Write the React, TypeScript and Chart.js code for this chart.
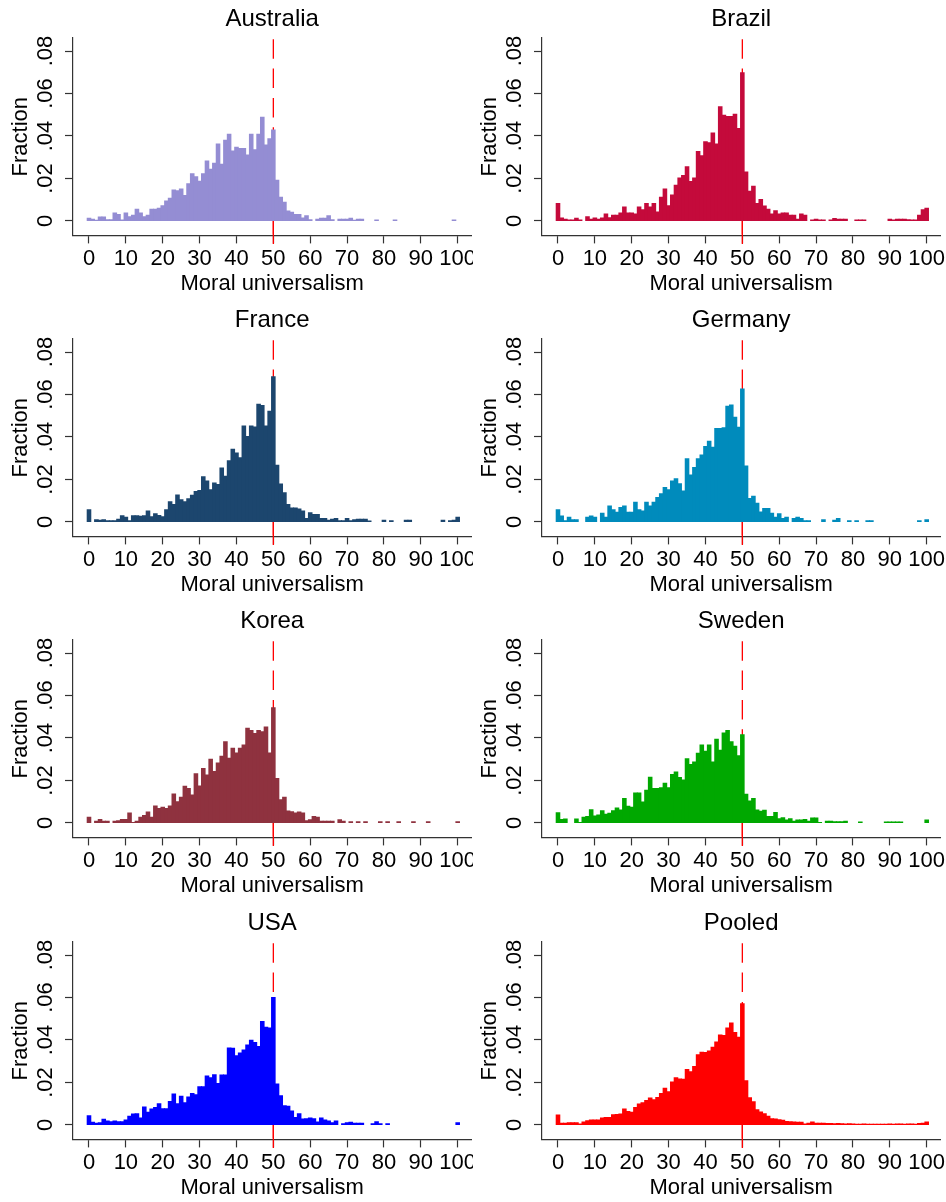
import React, { useEffect, useRef } from "react";
import { Chart, registerables } from "chart.js";

Chart.register(...registerables);

const FONT = '"Liberation Sans", Arial, Helvetica, sans-serif';

// Bins are 1 unit wide, centred on 0, 1, ..., 100
const BIN_START = 0;
const BIN_WIDTH = 1;

const X_TICKS = [0, 10, 20, 30, 40, 50, 60, 70, 80, 90, 100];
const X_TICK_LABELS = ["0", "10", "20", "30", "40", "50", "60", "70", "80", "90", "100"];
const Y_TICKS = [0, 0.02, 0.04, 0.06, 0.08];
const Y_TICK_LABELS = ["0", ".02", ".04", ".06", ".08"];
const X_TITLE = "Moral universalism";
const Y_TITLE = "Fraction";
const REF_LINE = 50;

const AUSTRALIA = [
  .0013, .0008, .0004, .0019, .0019, .0006, .0006, .0038, .0031, .0005,
  .0038, .0020, .0027, .0055, .0038, .0020, .0027, .0055, .0055, .0060,
  .0072, .0094, .0107, .0146, .0142, .0151, .0120, .0175, .0222, .0209,
  .0187, .0222, .0283, .0244, .0272, .0363, .0267, .0380, .0409, .0330,
  .0347, .0341, .0341, .0311, .0409, .0335, .0409, .0489, .0358, .0387,
  .0428, .0192, .0112, .0088, .0047, .0041, .0031, .0031, .0014, .0025,
  .0006, 0, .0008, .0013, .0013, .0025, .0006, 0, .0008, .0008,
  .0008, .0013, .0004, .0008, .0008, 0, 0, 0, .0005, 0,
  0, 0, 0, .0005, 0, 0, 0, 0, 0, 0,
  0, 0, 0, 0, 0, 0, 0, 0, 0, .0005,
  0,
];

const BRAZIL = [
  .0083, .0014, .0009, .0005, .0005, .0013, .0005, 0, .0020, .0009,
  .0014, .0009, .0014, .0033, .0016, .0027, .0027, .0038, .0066, .0038,
  .0038, .0033, .0066, .0053, .0083, .0066, .0083, .0042, .0112, .0151,
  .0072, .0123, .0168, .0203, .0214, .0255, .0186, .0203, .0327, .0307,
  .0373, .0368, .0414, .0362, .0538, .0498, .0492, .0492, .0503, .0436,
  .0698, .0231, .0140, .0164, .0083, .0101, .0071, .0055, .0033, .0049,
  .0033, .0038, .0038, .0027, .0027, .0009, .0033, .0027, 0, .0005,
  .0008, .0005, .0005, 0, .0005, .0012, .0008, .0008, .0008, 0,
  0, .0005, .0005, .0005, 0, 0, 0, 0, 0, 0,
  .0008, .0005, .0008, .0008, .0008, .0006, .0005, .0005, .0027, .0053,
  .0060,
];

const FRANCE = [
  .0058, 0, .0011, .0009, .0011, .0006, .0006, .0006, .0013, .0030,
  .0022, .0006, .0030, .0030, .0027, .0030, .0052, .0025, .0039, .0031,
  .0025, .0058, .0096, .0083, .0127, .0105, .0096, .0110, .0126, .0144,
  .0149, .0213, .0193, .0152, .0184, .0177, .0254, .0215, .0289, .0342,
  .0325, .0303, .0452, .0403, .0452, .0447, .0554, .0549, .0452, .0521,
  .0684, .0267, .0179, .0138, .0083, .0066, .0066, .0061, .0052, .0017,
  .0044, .0035, .0035, .0017, .0017, .0009, .0013, .0017, .0006, .0006,
  .0017, .0006, .0011, .0013, .0013, .0013, .0005, 0, 0, 0,
  .0009, 0, .0006, 0, 0, 0, .0008, .0008, 0, 0,
  0, 0, 0, 0, 0, 0, .0009, 0, .0006, .0009,
  .0022,
];

const GERMANY = [
  .0058, .0028, .0006, .0022, .0011, .0011, 0, 0, .0022, .0028,
  .0022, 0, .0041, .0022, .0075, .0058, .0046, .0069, .0075, .0046,
  .0046, .0093, .0058, .0052, .0093, .0075, .0093, .0116, .0133, .0163,
  .0152, .0193, .0204, .0180, .0146, .0298, .0221, .0257, .0298, .0316,
  .0356, .0380, .0352, .0440, .0440, .0444, .0545, .0551, .0493, .0446,
  .0626, .0264, .0111, .0121, .0088, .0047, .0064, .0064, .0041, .0022,
  .0039, .0017, .0022, 0, .0017, .0022, .0017, .0006, .0006, 0,
  0, 0, .0011, 0, 0, .0009, .0017, 0, 0, .0006,
  0, .0006, 0, 0, .0006, .0006, 0, 0, 0, 0,
  0, 0, 0, 0, 0, 0, 0, 0, .0006, 0,
  .0011,
];

const KOREA = [
  .0027, 0, .0009, .0017, .0008, .0008, 0, .0009, .0011, .0017,
  .0017, .0047, .0003, .0008, .0027, .0036, .0052, .0027, .0080, .0069,
  .0074, .0069, .0080, .0137, .0100, .0121, .0173, .0163, .0132, .0232,
  .0174, .0257, .0226, .0300, .0242, .0283, .0314, .0383, .0305, .0352,
  .0330, .0352, .0367, .0446, .0435, .0421, .0436, .0430, .0452, .0330,
  .0542, .0210, .0110, .0121, .0057, .0053, .0047, .0052, .0047, .0011,
  .0016, .0031, .0027, .0009, .0009, .0009, .0008, 0, .0016, .0009,
  0, .0006, 0, .0006, 0, .0006, 0, 0, 0, .0006,
  0, .0006, 0, 0, .0006, 0, 0, 0, .0006, 0,
  0, 0, .0006, 0, 0, 0, 0, 0, 0, 0,
  .0006,
];

const SWEDEN = [
  .0049, .0017, .0019, 0, 0, .0019, .0003, .0027, .0031, .0063,
  .0033, .0038, .0058, .0041, .0046, .0058, .0071, .0061, .0116, .0079,
  .0074, .0141, .0141, .0099, .0154, .0215, .0162, .0162, .0166, .0187,
  .0166, .0229, .0240, .0214, .0203, .0303, .0275, .0287, .0328, .0367,
  .0338, .0367, .0287, .0394, .0342, .0424, .0436, .0383, .0361, .0317,
  .0416, .0135, .0104, .0116, .0061, .0055, .0060, .0031, .0031, .0050,
  .0020, .0025, .0014, .0020, .0008, .0014, .0014, .0017, .0009, .0024,
  .0024, .0003, 0, .0009, .0009, .0006, .0006, .0006, .0009, 0,
  0, 0, .0005, 0, 0, 0, 0, 0, 0, .0005,
  .0005, .0005, .0005, .0005, 0, 0, 0, 0, 0, 0,
  .0014,
];

const USA = [
  .0044, .0013, .0008, .0011, .0027, .0019, .0016, .0019, .0016, .0016,
  .0024, .0041, .0052, .0053, .0033, .0085, .0060, .0075, .0083, .0100,
  .0077, .0077, .0111, .0146, .0100, .0136, .0105, .0132, .0149, .0143,
  .0180, .0180, .0231, .0223, .0237, .0195, .0235, .0235, .0362, .0361,
  .0326, .0339, .0353, .0377, .0399, .0388, .0370, .0487, .0460, .0457,
  .0600, .0193, .0138, .0091, .0088, .0066, .0036, .0053, .0028, .0030,
  .0033, .0030, .0014, .0033, .0024, .0019, .0011, .0019, 0, .0006,
  .0011, .0013, .0008, .0008, .0008, 0, 0, .0006, .0016, .0006,
  0, .0006, 0, 0, 0, 0, 0, 0, 0, 0,
  0, 0, 0, 0, 0, 0, 0, 0, 0, 0,
  .0011,
];

const POOLED = [
  .0047, .0009, .0009, .0011, .0011, .0011, .0005, .0014, .0020, .0024,
  .0024, .0024, .0033, .0036, .0036, .0049, .0050, .0052, .0075, .0064,
  .0060, .0082, .0099, .0105, .0115, .0127, .0119, .0130, .0149, .0173,
  .0157, .0203, .0223, .0217, .0215, .0261, .0251, .0275, .0331, .0342,
  .0341, .0348, .0366, .0391, .0424, .0421, .0457, .0480, .0436, .0413,
  .0571, .0209, .0129, .0110, .0072, .0061, .0053, .0041, .0030, .0028,
  .0025, .0022, .0017, .0016, .0014, .0013, .0013, .0005, .0009, .0014,
  .0008, .0008, .0008, .0007, .0007, .0006, .0007, .0006, .0005, .0006,
  .0005, .0004, .0004, .0005, .0004, .0004, .0004, .0004, .0004, .0004,
  .0005, .0004, .0005, .0005, .0004, .0005, .0005, .0004, .0007, .0009,
  .0014,
];

const PANELS = [
  { title: "Australia", color: "#948dd3", values: AUSTRALIA },
  { title: "Brazil", color: "#c40a3b", values: BRAZIL },
  { title: "France", color: "#1c466e", values: FRANCE },
  { title: "Germany", color: "#008bbc", values: GERMANY },
  { title: "Korea", color: "#8f323f", values: KOREA },
  { title: "Sweden", color: "#00a800", values: SWEDEN },
  { title: "USA", color: "#0000ff", values: USA },
  { title: "Pooled", color: "#ff0000", values: POOLED },
];

const AXIS_COLOR = "#333333";
const TEXT_COLOR = "#000000";

const refLinePlugin = {
  id: "refLine",
  beforeDatasetsDraw(chart: any) {
    const { ctx, chartArea, scales } = chart;
    const x = scales.x.getPixelForValue(REF_LINE);
    const y0 = scales.y.getPixelForValue(0);
    const bottom = chartArea.bottom + 8.3;
    ctx.save();
    ctx.strokeStyle = "#ff0000";
    ctx.lineWidth = 1.3;
    ctx.setLineDash([19.5, 9.8]);
    ctx.lineDashOffset = 27.7;
    ctx.beginPath();
    ctx.moveTo(x, chartArea.top);
    ctx.lineTo(x, bottom);
    ctx.stroke();
    ctx.setLineDash([]);
    ctx.beginPath();
    ctx.moveTo(x, y0);
    ctx.lineTo(x, bottom);
    ctx.stroke();
    ctx.restore();
  },
};

type PanelProps = {
  title: string;
  color: string;
  values: number[];
  left: number;
  top: number;
  width: number;
  height: number;
};

function Panel({ title, color, values, left, top, width, height }: PanelProps) {
  const ref = useRef<HTMLCanvasElement | null>(null);

  useEffect(() => {
    if (!ref.current) return;
    const data = values.map((v, i) => ({ x: BIN_START + i * BIN_WIDTH, y: v === 0 ? null : v }));
    const chart = new Chart(ref.current, {
      type: "bar",
      data: {
        datasets: [
          {
            data: data as any,
            backgroundColor: color,
            borderWidth: 0,
            inflateAmount: 0.45,
            barPercentage: 1,
            categoryPercentage: 1,
          },
        ],
      },
      options: {
        animation: false,
        responsive: false,
        devicePixelRatio: 1,
        layout: { padding: { left: 0, right: width - 471.7, top: 0, bottom: 0 } },
        plugins: {
          legend: { display: false },
          tooltip: { enabled: false },
          title: {
            display: true,
            text: title,
            fullSize: false,
            color: TEXT_COLOR,
            font: { family: FONT, size: 24, weight: "normal" },
            padding: { top: 4.9, bottom: 4.0 },
          },
        },
        scales: {
          x: {
            type: "linear",
            min: -4.42,
            max: 103.8,
            offset: false,
            afterBuildTicks: (s: any) => {
              s.ticks = X_TICKS.map((v) => ({ value: v }));
            },
            afterFit: (s: any) => {
              s.height = 65.3;
              s.paddingLeft = 0;
              s.paddingRight = 0;
            },
            ticks: {
              autoSkip: false,
              minRotation: 0,
              maxRotation: 0,
              padding: 2.6,
              color: TEXT_COLOR,
              font: { family: FONT, size: 22 },
              callback: (_v: any, i: number) => X_TICK_LABELS[i],
            },
            grid: {
              drawOnChartArea: false,
              drawTicks: true,
              offset: false,
              tickLength: 7.7,
              tickColor: AXIS_COLOR,
              tickWidth: 1.2,
            },
            border: { display: true, color: AXIS_COLOR, width: 1.2 },
            title: {
              display: true,
              text: X_TITLE,
              color: TEXT_COLOR,
              font: { family: FONT, size: 22 },
              padding: { top: 0, bottom: 3.8 },
            },
          },
          y: {
            type: "linear",
            min: -0.00692,
            max: 0.08626,
            afterBuildTicks: (s: any) => {
              s.ticks = Y_TICKS.map((v) => ({ value: v }));
            },
            afterFit: (s: any) => {
              s.width = 72.7;
              s.paddingTop = 0;
              s.paddingBottom = 0;
            },
            ticks: {
              minRotation: 90,
              maxRotation: 90,
              crossAlign: "center",
              padding: 3.7,
              color: TEXT_COLOR,
              font: { family: FONT, size: 22 },
              callback: (_v: any, i: number) => Y_TICK_LABELS[i],
            },
            grid: {
              drawOnChartArea: false,
              drawTicks: true,
              tickLength: 7.7,
              tickColor: AXIS_COLOR,
              tickWidth: 1.2,
            },
            border: { display: true, color: AXIS_COLOR, width: 1.2 },
            title: {
              display: true,
              text: Y_TITLE,
              color: TEXT_COLOR,
              font: { family: FONT, size: 22 },
              padding: { top: 8.1, bottom: 0 },
            },
          },
        },
      } as any,
      plugins: [refLinePlugin],
    });
    return () => chart.destroy();
  }, [title, color, values, width, height]);

  return (
    <canvas
      ref={ref}
      width={width}
      height={height}
      style={{ position: "absolute", left, top, width, height, display: "block" }}
    />
  );
}

const COL_LEFT = [0, 469];
const COL_WIDTH = [473, 477];
const ROW_TOP = [0, 301, 602, 904];
const PANEL_HEIGHT = 301;

export default function App() {
  return (
    <div
      style={{
        position: "fixed",
        left: 0,
        top: 0,
        width: 946,
        height: 1202,
        overflow: "hidden",
        background: "#ffffff",
      }}
    >
      {PANELS.map((p, k) => {
        const col = k % 2;
        const row = Math.floor(k / 2);
        return (
          <Panel
            key={p.title}
            title={p.title}
            color={p.color}
            values={p.values}
            left={COL_LEFT[col]}
            top={ROW_TOP[row]}
            width={COL_WIDTH[col]}
            height={PANEL_HEIGHT}
          />
        );
      })}
    </div>
  );
}
